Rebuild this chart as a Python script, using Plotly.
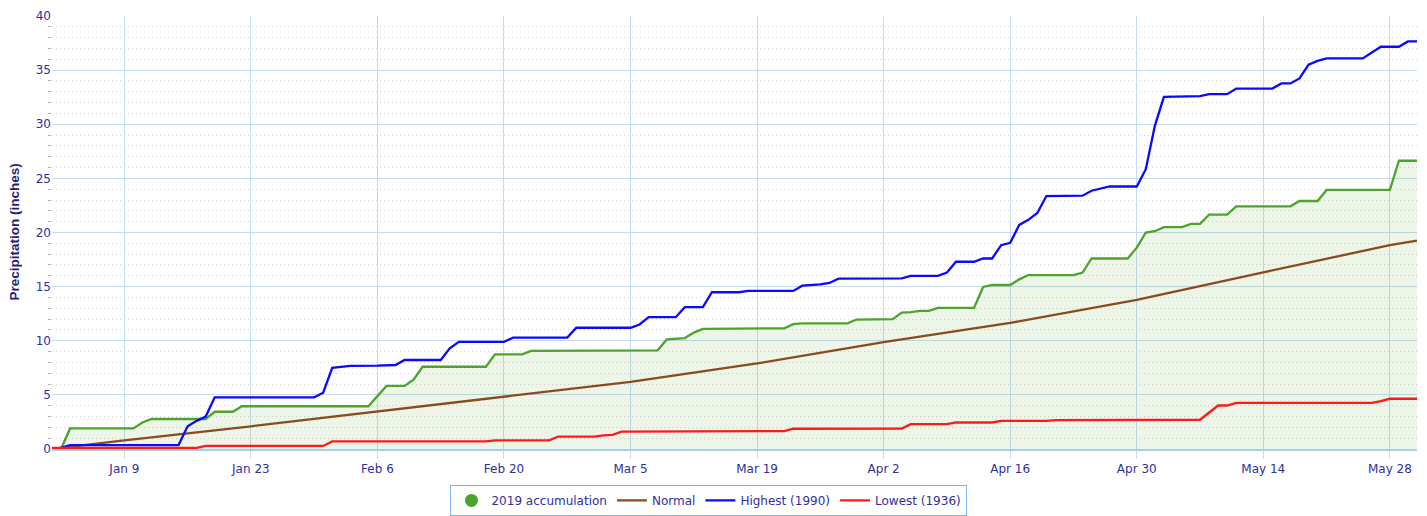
import plotly.graph_objects as go

# Axis uses a 366-day (leap-year) calendar, as the original chart does
YEAR = "2000-"

# 2019 accumulation (breakpoints: month-day, inches)
acc_dates = ["01-01", "01-02", "01-03", "01-10", "01-11", "01-12", "01-18", "01-19", "01-21", "01-22",
             "02-05", "02-06", "02-07", "02-09", "02-10", "02-11", "02-18", "02-19", "02-22", "02-23",
             "03-03", "03-08", "03-09", "03-11", "03-12", "03-13", "03-22", "03-23", "03-24", "03-29",
             "03-30", "04-03", "04-04", "04-05", "04-06", "04-07", "04-08", "04-12", "04-13", "04-14",
             "04-16", "04-17", "04-18", "04-23", "04-24", "04-25", "04-29", "04-30", "05-01", "05-02",
             "05-03", "05-05", "05-06", "05-07", "05-08", "05-10", "05-11", "05-17", "05-18", "05-20",
             "05-21", "05-28", "05-29", "05-31"]
acc_values = [0.0, 0.0, 1.9, 1.9, 2.45, 2.77, 2.77, 3.44, 3.44, 3.95,
              3.95, 4.85, 5.83, 5.83, 6.4, 7.6, 7.6, 8.74, 8.74, 9.07,
              9.12, 9.12, 10.12, 10.25, 10.75, 11.1, 11.15, 11.53, 11.6, 11.6,
              11.96, 12.0, 12.6, 12.64, 12.76, 12.76, 13.04, 13.04, 14.97, 15.15,
              15.15, 15.67, 16.07, 16.07, 16.3, 17.6, 17.6, 18.6, 20.0, 20.12,
              20.49, 20.49, 20.8, 20.8, 21.66, 21.66, 22.42, 22.42, 22.91, 22.91,
              23.93, 23.93, 26.63, 26.63]

# Normal
normal_dates = ["01-01", "01-09", "01-23", "02-06", "02-20", "02-28", "03-05", "03-19",
                "04-02", "04-16", "04-30", "05-14", "05-28", "05-31"]
normal_values = [0.0, 0.8, 2.1, 3.45, 4.8, 5.6, 6.2, 7.9,
                 9.88, 11.65, 13.77, 16.32, 18.83, 19.25]

# Highest (1990)
high_dates = ["01-01", "01-02", "01-03", "01-15", "01-16", "01-17", "01-18", "01-19", "01-30", "01-31",
              "02-01", "02-03", "02-06", "02-08", "02-09", "02-13", "02-14", "02-15", "02-20", "02-21",
              "02-27", "02-28", "03-05", "03-06", "03-07", "03-10", "03-11", "03-13", "03-14", "03-17",
              "03-18", "03-23", "03-24", "03-26", "03-27", "03-28", "04-04", "04-05", "04-08", "04-09",
              "04-10", "04-12", "04-13", "04-14", "04-15", "04-16", "04-17", "04-18", "04-19", "04-20",
              "04-24", "04-25", "04-27", "04-30", "05-01", "05-02", "05-03", "05-05", "05-07", "05-08",
              "05-10", "05-11", "05-15", "05-16", "05-17", "05-18", "05-19", "05-20", "05-21", "05-25",
              "05-26", "05-27", "05-29", "05-30", "05-31"]
high_values = [0.05, 0.1, 0.35, 0.37, 2.1, 2.6, 3.0, 4.77, 4.77, 5.2,
               7.5, 7.67, 7.7, 7.76, 8.22, 8.22, 9.3, 9.9, 9.9, 10.28,
               10.3, 11.2, 11.2, 11.5, 12.18, 12.18, 13.1, 13.1, 14.48, 14.48,
               14.6, 14.6, 15.09, 15.2, 15.34, 15.74, 15.77, 16.0, 16.0, 16.3,
               17.3, 17.3, 17.6, 17.6, 18.83, 19.05, 20.7, 21.17, 21.8, 23.37,
               23.4, 23.86, 24.25, 24.25, 25.85, 29.85, 32.53, 32.6, 32.6, 32.78,
               32.78, 33.3, 33.3, 33.77, 33.77, 34.23, 35.5, 35.86, 36.08, 36.08,
               36.6, 37.16, 37.16, 37.65, 37.65]

# Lowest (1936)
low_dates = ["01-01", "01-17", "01-18", "01-31", "02-01", "02-18", "02-19", "02-25", "02-26", "03-01",
             "03-02", "03-03", "03-04", "03-22", "03-23", "04-04", "04-05", "04-09", "04-10", "04-14",
             "04-15", "04-20", "04-21", "05-07", "05-09", "05-10", "05-11", "05-26", "05-27", "05-28",
             "05-31"]
low_values = [0.1, 0.1, 0.28, 0.28, 0.7, 0.7, 0.8, 0.8, 1.15, 1.15,
              1.25, 1.3, 1.6, 1.65, 1.87, 1.88, 2.3, 2.3, 2.45, 2.45,
              2.6, 2.6, 2.67, 2.7, 4.02, 4.02, 4.27, 4.27, 4.42, 4.64,
              4.64]

GREEN = "#4ca42c"
BROWN = "#8b4a1e"
BLUE = "#0a0aff"
RED = "#ff1a1a"
TXT = "#30309a"
LW = 2.3


def d(lst):
    return [YEAR + s for s in lst]


fig = go.Figure()
fig.add_trace(go.Scatter(x=d(acc_dates), y=acc_values, mode="lines", fill="tozeroy",
                         fillcolor="rgba(86,160,50,0.11)", line=dict(color=GREEN, width=LW),
                         showlegend=False, name="2019 accumulation"))
# legend entry with circle symbol for the accumulation series
fig.add_trace(go.Scatter(x=[None], y=[None], mode="markers", name="2019 accumulation",
                         marker=dict(color=GREEN, size=13, symbol="circle")))
fig.add_trace(go.Scatter(x=d(normal_dates), y=normal_values, mode="lines", name="Normal",
                         line=dict(color=BROWN, width=LW)))
fig.add_trace(go.Scatter(x=d(high_dates), y=high_values, mode="lines", name="Highest (1990)",
                         line=dict(color=BLUE, width=LW)))
fig.add_trace(go.Scatter(x=d(low_dates), y=low_values, mode="lines", name="Lowest (1936)",
                         line=dict(color=RED, width=LW)))

# page body adds an 8px margin, so the figure is 8px smaller and offset
fig.update_layout(
    width=1419, height=508,
    margin=dict(l=44, r=10, t=8, b=67, autoexpand=False),
    paper_bgcolor="white", plot_bgcolor="white",
    font=dict(family="DejaVu Sans", size=12, color=TXT),
    showlegend=True,
    legend=dict(orientation="h", x=0.4813, xanchor="center", y=-0.083, yanchor="top",
                bordercolor="#7db8e8", borderwidth=1, bgcolor="white",
                font=dict(family="DejaVu Sans", size=12, color=TXT),
                itemwidth=30, tracegroupgap=0),
    xaxis=dict(type="date", range=[YEAR + "01-01", YEAR + "05-31"],
               tick0=YEAR + "01-09", dtick=14 * 86400000, tickformat="%b %-d",
               showgrid=True, gridcolor="#c6dcee", gridwidth=1,
               showline=True, linecolor="#a9cdea", linewidth=2,
               ticks="outside", ticklen=8, tickcolor="#c6dcee", tickwidth=1,
               tickfont=dict(family="DejaVu Sans", size=12, color=TXT),
               zeroline=False, fixedrange=True, automargin=False),
    yaxis=dict(range=[0, 40], dtick=5, tick0=0,
               showgrid=True, gridcolor="#c6dcee", gridwidth=1.2,
               zeroline=False, showline=False, ticks="",
               tickfont=dict(family="DejaVu Sans", size=12, color=TXT),
               minor=dict(dtick=1, showgrid=True, gridcolor="#d4d4d4", griddash="1px,3px",
                          gridwidth=1, ticks="outside", ticklen=3, tickcolor="#b0b0b0"),
               fixedrange=True, automargin=False),
    annotations=[dict(text="<b>Precipitation (inches)</b>", textangle=-90,
                      xref="paper", yref="paper", x=-0.0278, y=0.5,
                      xanchor="center", yanchor="middle", showarrow=False,
                      font=dict(family="Liberation Sans", size=13.5, color="#1e1e78"))],
)

fig.write_html("out.html")
